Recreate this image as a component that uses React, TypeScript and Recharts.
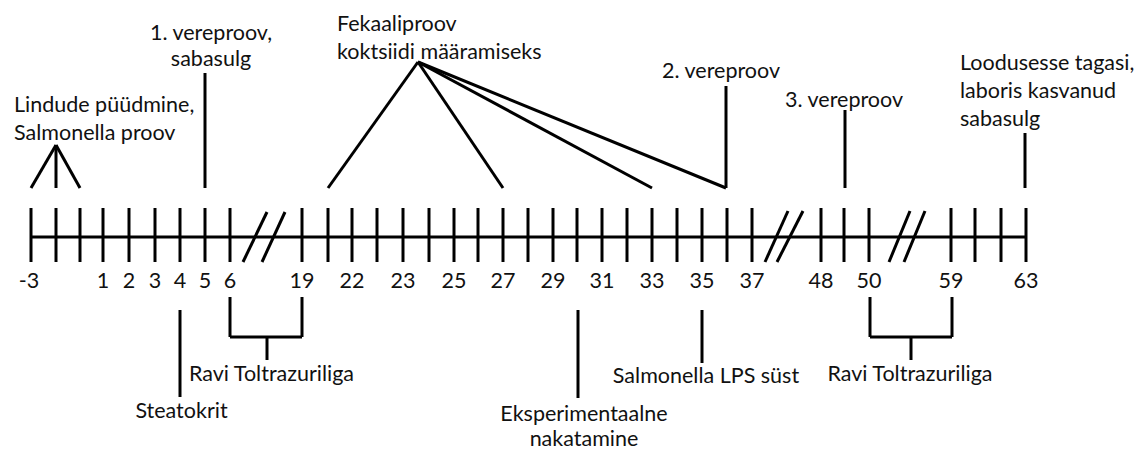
import { ComposedChart, XAxis, YAxis, ReferenceLine, Scatter } from "recharts";

// Timeline positions are in "slots" (one tick spacing = 1 slot);
// heights are measured up (+) or down (-) from the timeline.

const tickSlots = [
  0, 1, 1.96, 2.88, 3.92, 4.96, 5.96, 6.96, 7.96,
  10.84, 11.88, 12.84, 13.84, 14.88, 15.92, 16.92, 17.88, 18.88, 19.88,
  20.88, 21.84, 22.84, 23.84, 24.84, 25.84, 26.84, 27.84, 28.84,
  31.6, 32.52, 33.52,
  36.8, 37.76, 38.8, 39.8,
];

const tickLabels = [
  "-3", "1", "2", "3", "4", "5", "6",
  "19", "22", "23", "25", "27", "29", "31", "33", "35", "37",
  "48", "50", "59", "63",
];
const tickLabelSlots = [
  -0.08, 2.88, 3.92, 4.96, 5.96, 6.96, 7.96,
  10.84, 12.84, 14.88, 16.92, 18.88, 20.88, 22.84, 24.84, 26.84, 28.84,
  31.6, 33.52, 36.8, 39.8,
];

// axis break marks: [x1, y1, x2, y2]
const breakMarks: [number, number, number, number][] = [
  [8.48, -25, 9.44, 25],
  [9.24, -25, 10.16, 25],
  [29.36, -25, 30.28, 26],
  [29.84, -25, 30.88, 26],
  [34.32, -25, 35.16, 26],
  [34.92, -25, 35.76, 26],
];

// pointer lines from the notes to the timeline: [x1, y1, x2, y2]
const pointerLines: [number, number, number, number][] = [
  // Lindude püüdmine
  [1, 92, 0, 49],
  [1, 92, 1, 49],
  [1, 92, 1.96, 49],
  // 1. vereproov
  [6.96, 164, 6.96, 49],
  // Fekaaliproov
  [15.48, 175, 11.88, 49],
  [15.48, 175, 18.88, 49],
  [15.48, 175, 24.84, 49],
  [15.48, 175, 27.8, 49],
  // 2. vereproov
  [27.8, 151, 27.8, 49],
  // 3. vereproov
  [32.56, 127, 32.56, 49],
  // Loodusesse tagasi
  [39.76, 104, 39.76, 49],
  // Steatokrit
  [5.96, -73, 5.96, -160],
  // Ravi Toltrazuriliga (1)
  [7.96, -60, 7.96, -100],
  [10.84, -60, 10.84, -100],
  [7.96, -100, 10.84, -100],
  [9.44, -100, 9.44, -123],
  // Eksperimentaalne nakatamine
  [21.88, -73, 21.88, -161],
  // Salmonella LPS süst
  [26.84, -73, 26.84, -126],
  // Ravi Toltrazuriliga (2)
  [33.56, -60, 33.56, -100],
  [36.84, -60, 36.84, -100],
  [33.56, -100, 36.84, -100],
  [35.2, -100, 35.2, -123],
];

const notes = [
  { x: -0.68, y: 125, anchor: "start", gap: 28, lines: ["Lindude püüdmine,", "Salmonella proov"] },
  { x: 7.2, y: 197, anchor: "middle", gap: 26, lines: ["1. vereproov,", "sabasulg"] },
  { x: 12.24, y: 206, anchor: "start", gap: 28, lines: ["Fekaaliproov", "koktsiidi määramiseks"] },
  { x: 25.24, y: 159, anchor: "start", gap: 28, lines: ["2. vereproov"] },
  { x: 30.16, y: 130, anchor: "start", gap: 28, lines: ["3. vereproov"] },
  { x: 37.16, y: 167, anchor: "start", gap: 28, lines: ["Loodusesse tagasi,", "laboris kasvanud", "sabasulg"] },
  { x: 6.02, y: -181, anchor: "middle", gap: 28, lines: ["Steatokrit"] },
  { x: 9.62, y: -144, anchor: "middle", gap: 28, lines: ["Ravi Toltrazuriliga"] },
  { x: 22.12, y: -184, anchor: "middle", gap: 25, lines: ["Eksperimentaalne", "nakatamine"] },
  { x: 27.0, y: -146, anchor: "middle", gap: 28, lines: ["Salmonella LPS süst"] },
  { x: 35.16, y: -144, anchor: "middle", gap: 28, lines: ["Ravi Toltrazuriliga"] },
];

const FONT = "Lato, 'Open Sans', sans-serif";
const FONT_SIZE = 21.5;
const TEXT_COLOR = "#111";
const INK = "#000";

const tickLabelData = tickLabels.map((label, i) => ({
  x: tickLabelSlots[i],
  y: -51,
  anchor: "middle",
  gap: 28,
  lines: [label],
}));

function TextShape(props: any) {
  const { cx, cy, payload } = props;
  return (
    <text
      x={cx}
      y={cy}
      textAnchor={payload.anchor}
      fontFamily={FONT}
      fontSize={FONT_SIZE}
      fill={TEXT_COLOR}
    >
      {payload.lines.map((line: string, i: number) => (
        <tspan key={i} x={cx} dy={i === 0 ? 0 : payload.gap}>
          {line}
        </tspan>
      ))}
    </text>
  );
}

function seg(x1: number, y1: number, x2: number, y2: number) {
  return [
    { x: x1, y: y1 },
    { x: x2, y: y2 },
  ];
}

export default function App() {
  return (
    <div style={{ position: "absolute", left: 0, top: 0, background: "#fff" }}>
      <ComposedChart
        width={1142}
        height={450}
        margin={{ top: 0, right: 0, bottom: 0, left: 0 }}
      >
        <XAxis
          dataKey="x"
          type="number"
          domain={[-1.24, 44.44]}
          allowDataOverflow
          hide
        />
        <YAxis
          dataKey="y"
          type="number"
          domain={[-213, 237]}
          allowDataOverflow
          hide
        />
        <ReferenceLine
          segment={seg(0, 0, tickSlots[tickSlots.length - 1], 0)}
          stroke={INK}
          strokeWidth={3}
          ifOverflow="visible"
        />
        {tickSlots.map((s, i) => (
          <ReferenceLine
            key={`t${i}`}
            segment={seg(s, 29, s, -25)}
            stroke={INK}
            strokeWidth={3}
            ifOverflow="visible"
          />
        ))}
        {breakMarks.map((b, i) => (
          <ReferenceLine
            key={`b${i}`}
            segment={seg(b[0], b[1], b[2], b[3])}
            stroke={INK}
            strokeWidth={3}
            ifOverflow="visible"
          />
        ))}
        {pointerLines.map((p, i) => (
          <ReferenceLine
            key={`p${i}`}
            segment={seg(p[0], p[1], p[2], p[3])}
            stroke={INK}
            strokeWidth={3}
            ifOverflow="visible"
          />
        ))}
        <Scatter
          data={tickLabelData}
          shape={TextShape}
          isAnimationActive={false}
        />
        <Scatter data={notes} shape={TextShape} isAnimationActive={false} />
      </ComposedChart>
    </div>
  );
}
